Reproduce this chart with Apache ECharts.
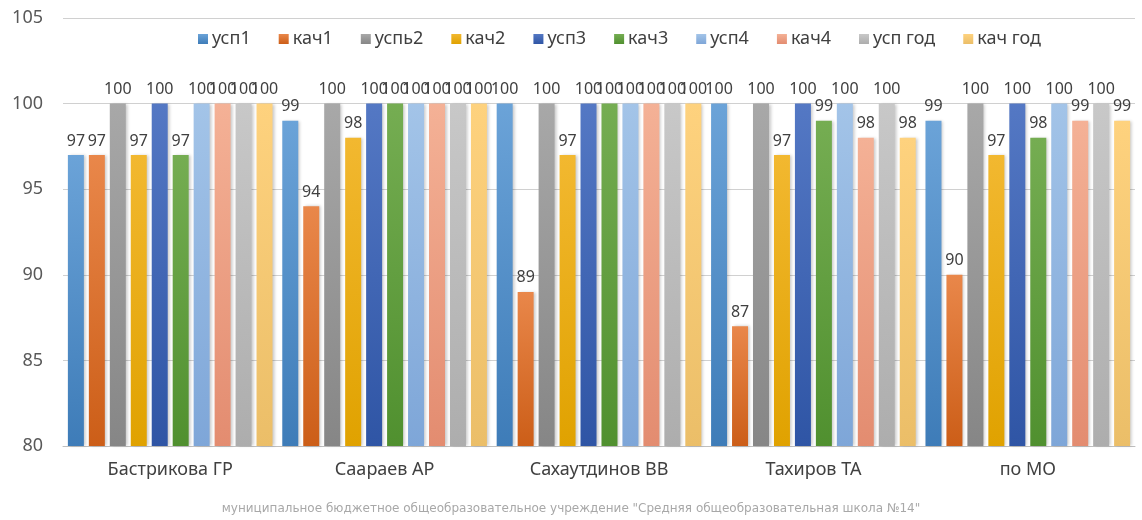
<!DOCTYPE html>
<html>
<head>
<meta charset="utf-8">
<script src="https://cdn.jsdelivr.net/npm/echarts@6/dist/echarts.min.js"></script>
<style>
  html, body { margin: 0; padding: 0; background: #fff; }
  #chart { width: 1142px; height: 520px; }
</style>
</head>
<body>
<div id="chart"></div>
<script>
// Категории (учителя и итог по МО)
const categories = ['Бастрикова ГР', 'Сaараев АР', 'Сахаутдинов ВВ', 'Тахиров ТА', 'по МО'];

// Успеваемость и качество по четвертям и за год, %
const usp1   = [97, 99, 100, 100, 99];
const kach1  = [97, 94, 89, 87, 90];
const usp2   = [100, 100, 100, 100, 100];
const kach2  = [97, 98, 97, 97, 97];
const usp3   = [100, 100, 100, 100, 100];
const kach3  = [97, 100, 100, 99, 98];
const usp4   = [100, 100, 100, 100, 100];
const kach4  = [100, 100, 100, 98, 99];
const uspGod = [100, 100, 100, 100, 100];
const kachGod = [100, 100, 100, 98, 99];

const seriesNames = ['усп1', 'кач1', 'успь2', 'кач2', 'усп3', 'кач3', 'усп4', 'кач4', 'усп год', 'кач год'];
const seriesData = [usp1, kach1, usp2, kach2, usp3, kach3, usp4, kach4, uspGod, kachGod];

const yTicks = [80, 85, 90, 95, 100, 105];

const palette = [
  ['#6BA3D8', '#3E7CB8'],
  ['#E9874A', '#CC5E18'],
  ['#A8A8A8', '#868686'],
  ['#F2B830', '#E0A200'],
  ['#5478C4', '#2F55A5'],
  ['#75AD52', '#50902F'],
  ['#A3C4E8', '#7EA6D8'],
  ['#F4B196', '#E38C70'],
  ['#C8C8C8', '#ADADAD'],
  ['#FED27E', '#EBBE68']
];

const footer = 'муниципальное бюджетное общеобразовательное учреждение "Средняя общеобразовательная школа №14"';

const chart = echarts.init(document.getElementById('chart'), null, { renderer: 'canvas' });

const series = seriesNames.map((name, i) => ({
  name: name,
  type: 'bar',
  data: seriesData[i],
  barWidth: 16,
  barGap: '31%',
  itemStyle: {
    color: new echarts.graphic.LinearGradient(0, 0, 0, 1, [
      { offset: 0, color: palette[i][0] },
      { offset: 1, color: palette[i][1] }
    ]),
    shadowColor: 'rgba(0,0,0,0.22)',
    shadowBlur: 3,
    shadowOffsetX: 2
  },
  label: {
    show: true,
    position: 'top',
    distance: 6,
    color: '#404040',
    fontSize: 16,
    fontFamily: 'Noto Sans'
  }
}));

chart.setOption({
  animation: false,
  backgroundColor: '#ffffff',
  color: palette.map(p => p[0]),
  legend: {
    top: 25,
    left: 193,
    itemWidth: 10,
    itemHeight: 10,
    itemGap: 28,
    icon: 'rect',
    textStyle: { color: '#404040', fontSize: 18, fontFamily: 'Noto Sans', padding: [0, 0, 0, -1] },
    data: seriesNames
  },
  grid: { left: 63, right: 7, top: 18, bottom: 74, containLabel: false },
  xAxis: {
    type: 'category',
    data: categories,
    axisTick: { show: false },
    axisLine: { lineStyle: { color: '#bfbfbf', width: 1 } },
    axisLabel: { color: '#404040', fontSize: 18, margin: 15, fontFamily: 'Noto Sans' }
  },
  yAxis: {
    type: 'value',
    min: yTicks[0],
    max: yTicks[yTicks.length - 1],
    interval: 5,
    axisLine: { show: false },
    axisTick: { show: false },
    splitLine: { lineStyle: { color: '#d0d0d0', width: 1 } },
    axisLabel: { color: '#595959', fontSize: 18, margin: 20, fontFamily: 'Noto Sans' }
  },
  graphic: [{
    type: 'text',
    left: 'center',
    top: 503,
    style: {
      text: footer,
      fill: '#a8a8a8',
      fontSize: 12,
      fontFamily: 'DejaVu Sans'
    }
  }],
  series: series
});
</script>
</body>
</html>
